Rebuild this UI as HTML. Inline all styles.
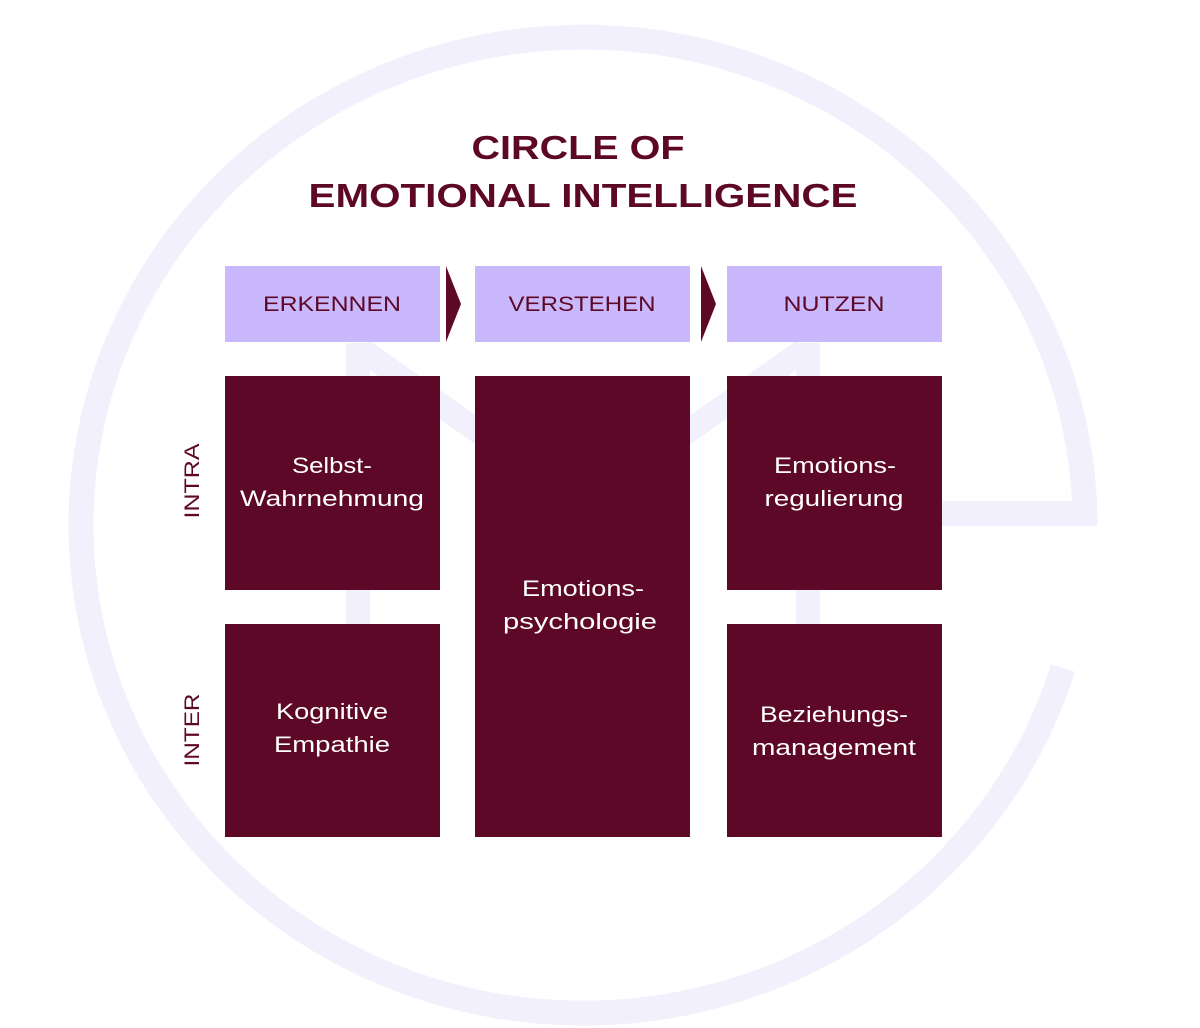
<!DOCTYPE html>
<html><head><meta charset="utf-8"><style>
html,body{margin:0;padding:0;background:#fff}
svg{display:block}
text{font-family:"Liberation Sans",sans-serif}
</style></head><body>
<svg width="1200" height="1028" viewBox="0 0 1200 1028" xmlns="http://www.w3.org/2000/svg">
<path d="M1085,525 A502,488 0 1 0 1063,668" fill="none" stroke="#f3f0fd" stroke-width="25"/>
<rect x="942" y="501" width="155" height="25" fill="#f3f0fd"/>
<g fill="none" stroke="#f3f0fd" stroke-width="24">
<line x1="358" y1="343" x2="358" y2="625"/>
<line x1="808" y1="343" x2="808" y2="625"/>
<polyline points="362,350 583,505 804,350"/>
</g>
<text x="578" y="159" text-anchor="middle" font-size="33" font-weight="bold" fill="#5e0828" textLength="213" lengthAdjust="spacingAndGlyphs">CIRCLE OF</text>
<text x="583" y="207" text-anchor="middle" font-size="33" font-weight="bold" fill="#5e0828" textLength="549" lengthAdjust="spacingAndGlyphs">EMOTIONAL INTELLIGENCE</text>
<g fill="#c9b8fb">
<rect x="225" y="266" width="215" height="76"/>
<rect x="475" y="266" width="215" height="76"/>
<rect x="727" y="266" width="215" height="76"/>
</g>
<g fill="#5e0828">
<polygon points="446,266 461,304 446,342"/>
<polygon points="701,266 716,304 701,342"/>
</g>
<g font-size="21" fill="#5e0828" text-anchor="middle" lengthAdjust="spacingAndGlyphs">
<text x="332" y="311" textLength="138" lengthAdjust="spacingAndGlyphs">ERKENNEN</text>
<text x="582" y="311" textLength="147" lengthAdjust="spacingAndGlyphs">VERSTEHEN</text>
<text x="834" y="311" textLength="101" lengthAdjust="spacingAndGlyphs">NUTZEN</text>
</g>
<g fill="#5e0828">
<rect x="225" y="376" width="215" height="214"/>
<rect x="225" y="624" width="215" height="213"/>
<rect x="475" y="376" width="215" height="461"/>
<rect x="727" y="376" width="215" height="214"/>
<rect x="727" y="624" width="215" height="213"/>
</g>
<g font-size="22" fill="#fff" text-anchor="middle">
<text x="332" y="473" textLength="80" lengthAdjust="spacingAndGlyphs">Selbst-</text>
<text x="332" y="506" textLength="184" lengthAdjust="spacingAndGlyphs">Wahrnehmung</text>
<text x="332" y="719" textLength="112" lengthAdjust="spacingAndGlyphs">Kognitive</text>
<text x="332" y="752" textLength="116" lengthAdjust="spacingAndGlyphs">Empathie</text>
<text x="583" y="596" textLength="122" lengthAdjust="spacingAndGlyphs">Emotions-</text>
<text x="580" y="629" textLength="154" lengthAdjust="spacingAndGlyphs">psychologie</text>
<text x="835" y="473" textLength="122" lengthAdjust="spacingAndGlyphs">Emotions-</text>
<text x="834" y="506" textLength="139" lengthAdjust="spacingAndGlyphs">regulierung</text>
<text x="834" y="722" textLength="148" lengthAdjust="spacingAndGlyphs">Beziehungs-</text>
<text x="834" y="755" textLength="164" lengthAdjust="spacingAndGlyphs">management</text>
</g>
<g font-size="21" fill="#5e0828" text-anchor="middle">
<text transform="translate(199,481) rotate(-90)" textLength="75" lengthAdjust="spacingAndGlyphs">INTRA</text>
<text transform="translate(199,730) rotate(-90)" textLength="73" lengthAdjust="spacingAndGlyphs">INTER</text>
</g>
</svg>
</body></html>
